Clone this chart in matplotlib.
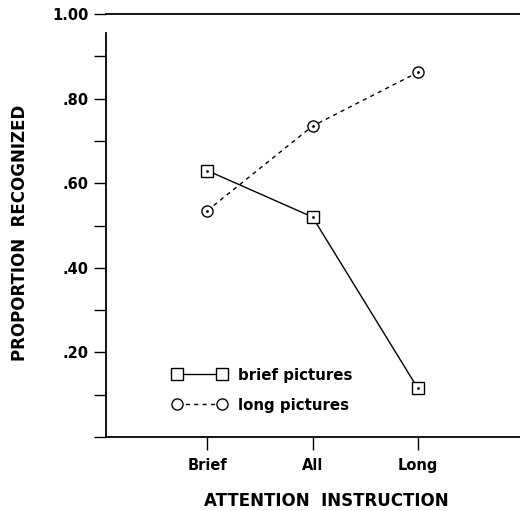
import matplotlib.pyplot as plt
import numpy as np

conditions = ['Brief', 'All', 'Long']
brief_pictures = [0.63, 0.52, 0.115]
long_pictures = [0.535, 0.735, 0.862]
ytick_vals = [0.0, 0.2, 0.4, 0.6, 0.8, 1.0]
ytick_labels = ['', '.20', '.40', '.60', '.80', '1.00']

plt.rcParams['font.family'] = 'DejaVu Sans'
plt.rcParams['font.weight'] = 'bold'

fig = plt.figure(figsize=(5.2, 5.11), dpi=100)
ax = fig.add_axes([0.204, 0.1448, 0.796, 0.8278])

x = np.arange(1, len(conditions) + 1)

ax.plot(x, brief_pictures, color='black', lw=1.0, marker='s', ms=9,
        mfc='white', mec='black', mew=1.0, label='brief pictures')
ax.plot(x, long_pictures, color='black', lw=1.0, ls=(0, (3, 3)), marker='o', ms=8,
        mfc='white', mec='black', mew=1.0, label='long pictures')
# little dots in the centre of the markers
ax.plot(x, brief_pictures, ls='none', marker='.', ms=2, color='black')
ax.plot(x, long_pictures, ls='none', marker='.', ms=2, color='black')

ax.set_xlim(0.04, 3.97)
ax.set_ylim(0, 1.0)

ax.set_xticks(x)
ax.set_xticklabels(conditions)
ax.set_yticks(ytick_vals)
ax.set_yticklabels(ytick_labels)
ax.set_yticks([0.1, 0.3, 0.5, 0.7, 0.9], minor=True)

ax.tick_params(axis='both', which='both', direction='out', length=9, width=1.0,
               labelsize=10.5, color='black')
ax.tick_params(axis='y', pad=3.5)
ax.tick_params(axis='x', pad=6)

ax.spines['right'].set_visible(False)
ax.spines['left'].set_bounds(0, 0.955)
for s in ['left', 'bottom', 'top']:
    ax.spines[s].set_linewidth(1.3)

ax.set_ylabel('PROPORTION  RECOGNIZED', fontsize=12, fontweight='bold')
ax.set_xlabel('ATTENTION  INSTRUCTION', fontsize=12, fontweight='bold')
ax.yaxis.set_label_coords(-0.186, 0.482)
ax.xaxis.set_label_coords(0.531, -0.131)

leg = ax.legend(loc='center left', bbox_to_anchor=(0.161, 0.111), frameon=False,
                numpoints=2, handlelength=3.6, handletextpad=0.75, labelspacing=1.0,
                borderpad=0, borderaxespad=0, fontsize=10.8)

fig.savefig('out.png', dpi=100)
